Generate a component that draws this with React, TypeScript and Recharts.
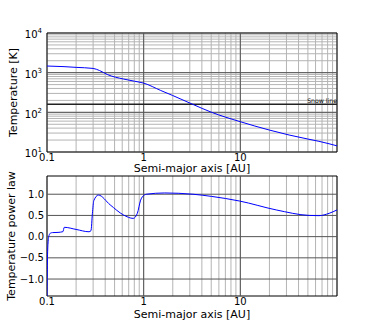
import React from 'react';
import { LineChart, Line, XAxis, YAxis, CartesianGrid, ReferenceLine, ReferenceArea, Label } from 'recharts';

// semi-major axis [AU] and midplane temperature [K]
const tempA = [0.1, 0.15, 0.2, 0.3, 0.35, 0.42, 0.62, 0.8, 1.0, 1.5, 2, 3.24, 5, 10, 20, 32, 50, 65, 100];
const tempK = [1470, 1420, 1360, 1280, 1130, 900, 690, 610, 545, 356, 265, 158, 101, 58, 35.7, 26.8, 21.2, 18.6, 14.3];

// local power-law index of the temperature profile
const powA = [0.1, 0.101, 0.1025, 0.105, 0.109, 0.114, 0.13, 0.146, 0.151, 0.2, 0.272, 0.285, 0.295, 0.305, 0.34, 0.45, 0.62, 0.78, 0.86, 0.93, 0.97, 1.07, 1.65, 3.24, 5, 9.8, 23.5, 51.6, 65, 83, 100];
const powV = [-1.4, -0.6, -0.15, 0.03, 0.085, 0.095, 0.1, 0.117, 0.22, 0.17, 0.115, 0.14, 0.55, 0.85, 0.98, 0.75, 0.51, 0.43, 0.55, 0.86, 0.94, 1.0, 1.03, 1.0, 0.95, 0.84, 0.63, 0.5, 0.495, 0.55, 0.63];

const snowLine = 160;

const xTicks = [0.1, 0.2, 0.3, 0.4, 0.5, 0.6, 0.7, 0.8, 0.9, 1, 2, 3, 4, 5, 6, 7, 8, 9, 10, 20, 30, 40, 50, 60, 70, 80, 90, 100];
const xLabels: Record<string, string> = { '0.1': '0.1', '1': '1', '10': '10' };
const xMajor = [1, 10];

const tTicks = [10, 20, 30, 40, 50, 60, 70, 80, 90, 100, 200, 300, 400, 500, 600, 700, 800, 900, 1000, 2000, 3000, 4000, 5000, 6000, 7000, 8000, 9000, 10000];
const tMajor = [100, 1000];
const tExp: Record<string, number> = { '10': 1, '100': 2, '1000': 3, '10000': 4 };

const pTicks = [-1, -0.5, 0, 0.5, 1];

const tempData = tempA.map((a, i) => ({ a, t: tempK[i] }));
const powData = powA.map((a, i) => ({ a, p: powV[i] }));

const FONT = 'DejaVu Sans, sans-serif';
const MINOR = '#b4b4b4';
const MAJOR = '#555555';

const XTick = (props: any) => {
  const { x, y, payload } = props;
  const lab = xLabels[String(payload.value)];
  if (!lab) return null;
  return (
    <text x={x} y={y} dy="0.71em" textAnchor="middle" fontSize={10} fontFamily={FONT} fill="#000">
      {lab}
    </text>
  );
};

const TTick = (props: any) => {
  const { x, y, payload } = props;
  const n = tExp[String(payload.value)];
  if (!n) return null;
  return (
    <text x={x} y={y + 5.3} textAnchor="end" fontSize={10} fontFamily={FONT} fill="#000">
      <tspan>10</tspan>
      <tspan dy={-5} fontSize={7}>{n}</tspan>
    </text>
  );
};

const PTick = (props: any) => {
  const { x, y, payload } = props;
  const s = payload.value.toFixed(1).replace('-', '\u2212');
  return (
    <text x={x} y={y} dy="0.36em" textAnchor="end" fontSize={10} fontFamily={FONT} fill="#000">
      {s}
    </text>
  );
};

const yLabel = (text: string, cx: number, cy: number) => () => (
  <text x={cx} y={cy} transform={`rotate(-90 ${cx} ${cy})`} textAnchor="middle" fontSize={11} fontFamily={FONT} fill="#000">
    {text}
  </text>
);

const snowLabel = (props: any) => {
  const vb = props.viewBox;
  return (
    <text x={vb.x + vb.width} y={vb.y - 1} textAnchor="end" fontSize={6.2} fontFamily={FONT} fill="#000" stroke="none">
      Snow line
    </text>
  );
};

export default function App() {
  return (
    <div style={{ position: 'absolute', left: 0, top: 0, width: 374, height: 329, background: '#fff', fontFamily: FONT }}>
      <div style={{ position: 'absolute', left: 0, top: 0 }}>
        <LineChart width={374} height={176} data={tempData} margin={{ top: 33, right: 37, bottom: 0, left: 0 }}>
          <CartesianGrid stroke={MINOR} />
          {tMajor.map((v) => (
            <ReferenceLine key={'t' + v} y={v} stroke={MAJOR} />
          ))}
          {xMajor.map((v) => (
            <ReferenceLine key={'x' + v} x={v} stroke={MAJOR} />
          ))}
          <ReferenceLine y={snowLine} stroke="#222" strokeWidth={1.5} label={snowLabel} />
          <XAxis dataKey="a" type="number" scale="log" domain={[0.1, 100]} ticks={xTicks} allowDataOverflow
            height={24} axisLine={false} tickLine={false} tickSize={2} tickMargin={0} tick={<XTick />} interval={0}>
            <Label value="Semi-major axis [AU]" position="insideBottom" offset={4} style={{ fontSize: 11, fill: '#000', fontFamily: FONT }} />
          </XAxis>
          <YAxis type="number" scale="log" domain={[10, 10000]} ticks={tTicks} allowDataOverflow width={47}
            axisLine={false} tickLine={false} tickSize={5} tickMargin={0} tick={<TTick />} interval={0}>
            <Label content={yLabel('Temperature [K]', 16.5, 92.5)} />
          </YAxis>
          <Line dataKey="t" type="monotone" stroke="#0000ff" strokeWidth={1} dot={false} isAnimationActive={false} />
          <ReferenceArea x1={0.1} x2={100} y1={10} y2={10000} fill="none" stroke="#000" strokeWidth={1} ifOverflow="visible" />
        </LineChart>
      </div>
      <div style={{ position: 'absolute', left: 0, top: 160 }}>
        <LineChart width={374} height={169} data={powData} margin={{ top: 16, right: 37, bottom: 0, left: 0 }}>
          <CartesianGrid stroke={MINOR} horizontal={false} />
          {pTicks.map((v) => (
            <ReferenceLine key={'p' + v} y={v} stroke={MAJOR} />
          ))}
          {xMajor.map((v) => (
            <ReferenceLine key={'x' + v} x={v} stroke={MAJOR} />
          ))}
          <XAxis dataKey="a" type="number" scale="log" domain={[0.1, 100]} ticks={xTicks} allowDataOverflow
            height={33} axisLine={false} tickLine={false} tickSize={2.3} tickMargin={0} tick={<XTick />} interval={0}>
            <Label value="Semi-major axis [AU]" position="insideBottom" offset={11} style={{ fontSize: 11, fill: '#000', fontFamily: FONT }} />
          </XAxis>
          <YAxis type="number" domain={[-1.4, 1.43]} ticks={pTicks} allowDataOverflow width={47}
            axisLine={false} tickLine={false} tickSize={3} tickMargin={0} tick={<PTick />} interval={0}>
            <Label content={yLabel('Temperature power law', 14.5, 76)} />
          </YAxis>
          <Line dataKey="p" type="monotone" stroke="#0000ff" strokeWidth={1} dot={false} isAnimationActive={false} />
          <ReferenceArea x1={0.1} x2={100} y1={-1.4} y2={1.43} fill="none" stroke="#000" strokeWidth={1} ifOverflow="visible" />
        </LineChart>
      </div>
    </div>
  );
}
